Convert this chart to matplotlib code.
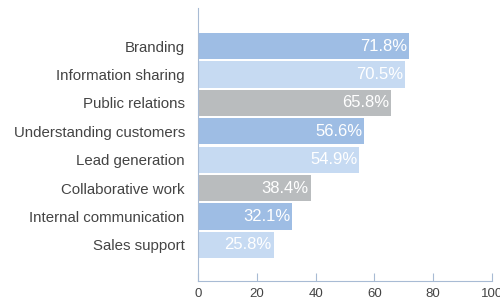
import matplotlib.pyplot as plt

plt.rcParams['font.family'] = ['Liberation Sans', 'DejaVu Sans']

categories = ["Branding", "Information sharing", "Public relations",
              "Understanding customers", "Lead generation", "Collaborative work",
              "Internal communication", "Sales support"]
values = [71.8, 70.5, 65.8, 56.6, 54.9, 38.4, 32.1, 25.8]
palette = ["#9ebde4", "#c6daf2", "#b9bcbe"]
xticks = [0, 20, 40, 60, 80, 100]

fig = plt.figure(figsize=(5, 3.02), dpi=100)
ax = fig.add_axes([0.396, 0.0695, 0.588, 0.904])

n = len(categories)
ypos = [n - 1 - i for i in range(n)]
colors = [palette[i % 3] for i in range(n)]
ax.barh(ypos, values, height=0.92, color=colors)

for y, v in zip(ypos, values):
    ax.text(v - 0.7, y, f"{v}%", ha="right", va="center", color="white",
            fontsize=12)

ax.set_xlim(0, 100)
ax.set_ylim(-1.27, n - 1 + 1.34)
ax.set_yticks(ypos)
ax.set_yticklabels(categories, fontsize=10.8, color="#444444")
ax.set_xticks(xticks)
ax.set_xticklabels([str(t) for t in xticks], fontsize=9.5, color="#444444")

spine_col = "#a8bbd4"
for s in ["top", "right"]:
    ax.spines[s].set_visible(False)
ax.spines["left"].set_color(spine_col)
ax.spines["bottom"].set_color(spine_col)
ax.tick_params(axis="y", length=0, pad=9.5)
ax.tick_params(axis="x", direction="in", length=6, color=spine_col, pad=5)

fig.savefig("out.png", dpi=100)
